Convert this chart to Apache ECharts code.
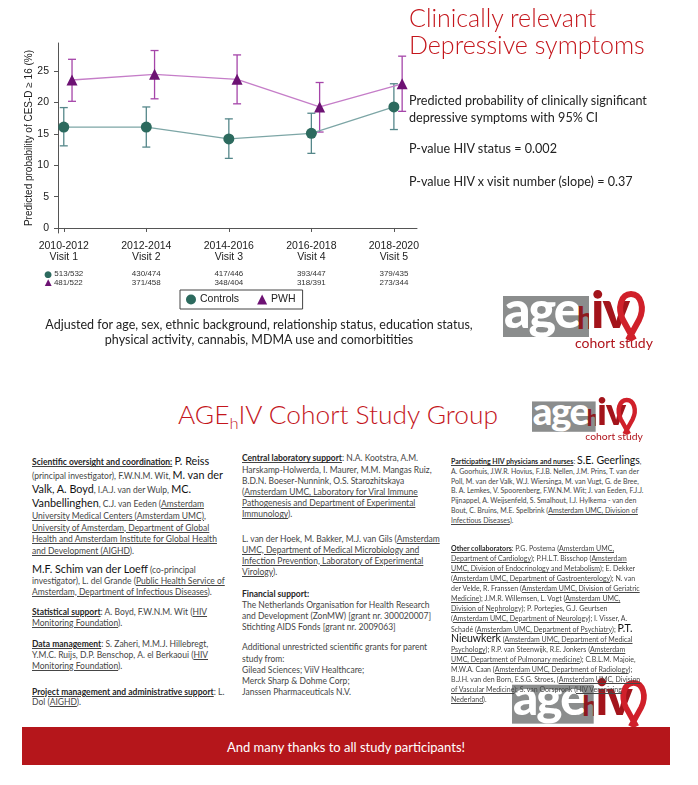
<!DOCTYPE html>
<html>
<head>
<meta charset="utf-8">
<script src="https://cdn.jsdelivr.net/npm/echarts@6/dist/echarts.min.js"></script>
<style>
  html, body { margin: 0; padding: 0; background: #fff; }
  #page { position: relative; width: 698px; height: 785px; overflow: hidden; font-family: Lato, "Open Sans", sans-serif; }
  #chart { position: absolute; left: 0; top: 0; width: 698px; height: 360px; }
  .txt { position: absolute; white-space: nowrap; color: #222; z-index: 3; }
  .title { color: #c4161c; font-weight: 300; }
  .col { font-size: 8.5px; color: #454545; }
  .col3 { font-size: 7px; }
  .col b { font-weight: 700; color: #262626; }
  .big { font-size: 10.8px; color: #111; }
  .col3 .big { font-size: 10.5px; }
  .banner { position: absolute; left: 22px; top: 727px; width: 648px; height: 38px; background: #b5161b; color: #fff; font-size: 13px; text-align: center; line-height: 41px; z-index: 5; }
  .logo { position: absolute; width: 144px; height: 62px; transform-origin: 0 0; z-index: 1; }
  .logo .g { position: absolute; left: 0; top: 6px; width: 86px; height: 41px; background: #8b8d8d; overflow: hidden; }
  .logo .age { position: absolute; left: 1px; top: -14px; color: #fff; font-weight: 900; font-size: 52px; line-height: 52px; letter-spacing: -2px; }
  .logo .h { position: absolute; left: 74px; top: 6px; color: #8e1a1f; font-weight: 900; font-size: 30px; line-height: 30px; }
  .logo .iv { position: absolute; left: 88px; top: -8px; color: #a3141b; font-weight: 900; font-size: 52px; line-height: 52px; letter-spacing: -2px; }
  .logo svg { position: absolute; left: 112px; top: 0; }
  .logo .cs { position: absolute; left: 72px; top: 45px; color: #b0141c; font-size: 14px; line-height: 16px; white-space: nowrap; }
</style>
</head>
<body>
<div id="page">
  <div id="chart"></div>

  <div class="txt title" style="left:409px; top:4px; font-size:25px; line-height:27px;">Clinically relevant<br>Depressive symptoms</div>
  <div class="txt" style="left:409px; top:91.5px; font-size:12.6px; line-height:17px;">Predicted probability of clinically significant<br>depressive symptoms with 95% CI</div>
  <div class="txt" style="left:409px; top:139.5px; font-size:12.6px; line-height:17px;">P-value HIV status = 0.002</div>
  <div class="txt" style="left:409px; top:172.5px; font-size:12.6px; line-height:17px;">P-value HIV x visit number (slope) = 0.37</div>

  <div class="txt" style="left:0; width:518px; text-align:center; top:317px; font-size:12.5px; line-height:15px;">Adjusted for age, sex, ethnic background, relationship status, education status,<br>physical activity, cannabis, MDMA use and comorbitities</div>

  <div class="logo" style="left:503px; top:290px;">
    <div class="g"><span class="age">age</span><span class="h">h</span></div>
    <span class="iv">iv</span>
    <svg width="34" height="52"><path d="M19 50 L8 30 C2 18 6 4 16 4 C26 4 30 18 24 30 L13 50" fill="none" stroke="#d0202a" stroke-width="6"/></svg>
    <span class="cs">cohort study</span>
  </div>

  <div class="txt title" style="left:178px; top:397px; font-size:26.3px; line-height:34px;">AGE<sub style="font-size:16.5px; vertical-align:-5px;">h</sub>IV Cohort Study Group</div>

  <div class="logo" style="left:532px; top:397px; transform:scale(0.74);">
    <div class="g"><span class="age">age</span><span class="h">h</span></div>
    <span class="iv">iv</span>
    <svg width="34" height="52"><path d="M19 50 L8 30 C2 18 6 4 16 4 C26 4 30 18 24 30 L13 50" fill="none" stroke="#d0202a" stroke-width="6"/></svg>
    <span class="cs">cohort study</span>
  </div>

  <div class="logo" style="left:512px; top:679px; transform:scale(0.95);">
    <div class="g"><span class="age">age</span><span class="h">h</span></div>
    <span class="iv">iv</span>
    <svg width="34" height="52"><path d="M19 50 L8 30 C2 18 6 4 16 4 C26 4 30 18 24 30 L13 50" fill="none" stroke="#d0202a" stroke-width="6"/></svg>
  </div>

  <!-- column 1 -->
  <div class="txt col" style="left:32px; top:455px; line-height:11.9px;">
    <u><b>Scientific oversight and coordination:</b></u> <span class="big">P. Reiss</span><br>
    (principal investigator), F.W.N.M. Wit, <span class="big">M. van der</span><br>
    <span class="big">Valk, A. Boyd</span>, I.A.J. van der Wulp, <span class="big">MC.</span><br>
    <span class="big">Vanbellinghen</span>, C.J. van Eeden (<u>Amsterdam</u><br>
    <u>University Medical Centers (Amsterdam UMC),</u><br>
    <u>University of Amsterdam, Department of Global</u><br>
    <u>Health and Amsterdam Institute for Global Health</u><br>
    <u>and Development (AIGHD</u>).
  </div>
  <div class="txt col" style="left:32px; top:562.5px; line-height:11px;">
    <span class="big">M.F. Schim van der Loeff</span> (co-principal<br>
    investigator), L. del Grande (<u>Public Health Service of</u><br>
    <u>Amsterdam, Department of Infectious Diseases</u>).
  </div>
  <div class="txt col" style="left:32px; top:606.5px; line-height:11px;">
    <u><b>Statistical support</b></u>: A. Boyd, F.W.N.M. Wit (<u>HIV</u><br>
    <u>Monitoring Foundation</u>).
  </div>
  <div class="txt col" style="left:32px; top:638.5px; line-height:11px;">
    <u><b>Data management</b></u>: S. Zaheri, M.M.J. Hillebregt,<br>
    Y.M.C. Ruijs, D.P. Benschop, A. el Berkaoui (<u>HIV</u><br>
    <u>Monitoring Foundation</u>).
  </div>
  <div class="txt col" style="left:32px; top:686.5px; line-height:10.5px;">
    <u><b>Project management and administrative support</b></u>: L.<br>
    Dol (<u>AIGHD</u>).
  </div>

  <!-- column 2 -->
  <div class="txt col" style="left:242px; top:453.4px; line-height:11.2px;">
    <u><b>Central laboratory support</b></u>: N.A. Kootstra, A.M.<br>
    Harskamp-Holwerda, I. Maurer, M.M. Mangas Ruiz,<br>
    B.D.N. Boeser-Nunnink, O.S. Starozhitskaya<br>
    (<u>Amsterdam UMC, Laboratory for Viral Immune</u><br>
    <u>Pathogenesis and Department of Experimental</u><br>
    <u>Immunology</u>).
  </div>
  <div class="txt col" style="left:242px; top:533.5px; line-height:11px;">
    L. van der Hoek, M. Bakker, M.J. van Gils (<u>Amsterdam</u><br>
    <u>UMC, Department of Medical Microbiology and</u><br>
    <u>Infection Prevention, Laboratory of Experimental</u><br>
    <u>Virology</u>).
  </div>
  <div class="txt col" style="left:242px; top:588.5px; line-height:11px;">
    <b>Financial support:</b><br>
    The Netherlands Organisation for Health Research<br>
    and Development (ZonMW) [grant nr. 300020007]<br>
    Stichting AIDS Fonds [grant nr. 2009063]
  </div>
  <div class="txt col" style="left:242px; top:642.4px; line-height:11.2px;">
    Additional unrestricted scientific grants for parent<br>
    study from:<br>
    Gilead Sciences; ViiV Healthcare;<br>
    Merck Sharp &amp; Dohme Corp;<br>
    Janssen Pharmaceuticals N.V.
  </div>

  <!-- column 3 -->
  <div class="txt col col3" style="left:451px; top:456px; line-height:9.83px;">
    <u><b>Participating HIV physicians and nurses</b></u>: <span class="big">S.E. Geerlings</span>,<br>
    A. Goorhuis, J.W.R. Hovius, F.J.B. Nellen, J.M. Prins, T. van der<br>
    Poll, M. van der Valk, W.J. Wiersinga, M. van Vugt, G. de Bree,<br>
    B. A. Lemkes, V. Spoorenberg, F.W.N.M. Wit; J. van Eeden, F.J.J.<br>
    Pijnappel, A. Weijsenfeld, S. Smalhout, I.J. Hylkema - van den<br>
    Bout, C. Bruins, M.E. Spelbrink (<u>Amsterdam UMC, Division of</u><br>
    <u>Infectious Diseases</u>).
  </div>
  <div class="txt col col3" style="left:451px; top:544px; line-height:9.93px;">
    <u><b>Other collaborators</b></u>: P.G. Postema (<u>Amsterdam UMC,</u><br>
    <u>Department of Cardiology</u>); P.H.L.T. Bisschop (<u>Amsterdam</u><br>
    <u>UMC, Division of Endocrinology and Metabolism</u>); E. Dekker<br>
    (<u>Amsterdam UMC, Department of Gastroenterology</u>); N. van<br>
    der Velde, R. Franssen (<u>Amsterdam UMC, Division of Geriatric</u><br>
    <u>Medicine</u>); J.M.R. Willemsen, L. Vogt (<u>Amsterdam UMC,</u><br>
    <u>Division of Nephrology</u>); P. Portegies, G.J. Geurtsen<br>
    (<u>Amsterdam UMC, Department of Neurology</u>); I. Visser, A.<br>
    Schadé (<u>Amsterdam UMC, Department of Psychiatry</u>); <span class="big">P.T.</span><br>
    <span class="big">Nieuwkerk</span> (<u>Amsterdam UMC, Department of Medical</u><br>
    <u>Psychology</u>); R.P. van Steenwijk, R.E. Jonkers (<u>Amsterdam</u><br>
    <u>UMC, Department of Pulmonary medicine</u>); C.B.L.M. Majoie,<br>
    M.W.A. Caan (<u>Amsterdam UMC, Department of Radiology</u>);<br>
    B.J.H. van den Born, E.S.G. Stroes, (<u>Amsterdam UMC, Division</u><br>
    <u>of Vascular Medicine</u>); S. van Oorspronk (<u>HIV Vereniging</u><br>
    <u>Nederland</u>).
  </div>

  <div class="banner">And many thanks to all study participants!</div>
</div>

<script>
  // visits and labels
  var visits = [1, 2, 3, 4, 5]
  var periods = ['2010-2012', '2012-2014', '2014-2016', '2016-2018', '2018-2020']
  var visitNames = ['Visit 1', 'Visit 2', 'Visit 3', 'Visit 4', 'Visit 5']
  var nControls = ['513/532', '430/474', '417/446', '393/447', '379/435']
  var nPWH = ['481/522', '371/458', '348/404', '318/391', '273/344']
  var yTicks = [0, 5, 10, 15, 20, 25]

  // predicted probability (%) with 95% CI
  var controlsEst = [16.1, 16.1, 14.2, 15.1, 19.3]
  var controlsLow = [13.1, 12.9, 11.1, 11.9, 15.7]
  var controlsHigh = [19.2, 19.3, 17.4, 18.3, 23.0]
  var pwhEst = [23.6, 24.5, 23.7, 19.3, 23.0]
  var pwhLow = [20.2, 20.6, 19.8, 15.3, 18.6]
  var pwhHigh = [26.9, 28.3, 27.6, 23.2, 27.4]

  var dodge = 0.1 // PWH drawn a little right of each visit

  var ctrlColor = '#2c6a5e', ctrlLine = '#7da6a6', ctrlBar = '#55878a'
  var pwhColor = '#6d1273', pwhLine = '#c57dc8', pwhBar = '#a545a9'

  function errorBars(color) {
    return function (params, api) {
      var x = api.value(0)
      var lo = api.coord([x, api.value(1)])
      var hi = api.coord([x, api.value(2)])
      var w = 4
      var style = { stroke: color, lineWidth: 1.3, fill: null }
      return {
        type: 'group',
        children: [
          { type: 'line', shape: { x1: lo[0], y1: lo[1], x2: hi[0], y2: hi[1] }, style: style },
          { type: 'line', shape: { x1: lo[0] - w, y1: lo[1], x2: lo[0] + w, y2: lo[1] }, style: style },
          { type: 'line', shape: { x1: hi[0] - w, y1: hi[1], x2: hi[0] + w, y2: hi[1] }, style: style }
        ]
      }
    }
  }

  var ctrlPoints = [], pwhPoints = [], ctrlCI = [], pwhCI = []
  visits.forEach(function (v, i) {
    ctrlPoints.push([v, controlsEst[i]])
    pwhPoints.push([v + dodge, pwhEst[i]])
    ctrlCI.push([v, controlsLow[i], controlsHigh[i]])
    pwhCI.push([v + dodge, pwhLow[i], pwhHigh[i]])
  })

  var axisColor = '#555'
  var myChart = echarts.init(document.getElementById('chart'))
  myChart.setOption({
    animation: false,
    textStyle: { fontFamily: '"Liberation Sans", Arial, sans-serif' },
    grid: { left: 58, top: 43, width: 359, height: 190 },
    legend: {
      left: 180,
      top: 290,
      padding: [4, 7, 4, 6],
      itemGap: 18,
      itemWidth: 10,
      itemHeight: 10,
      borderColor: '#444',
      borderWidth: 1,
      textStyle: { fontSize: 10.5, color: '#222', padding: [0, 0, 0, -1] },
      data: [{ name: 'Controls', icon: 'circle' }, { name: 'PWH', icon: 'triangle' }]
    },
    xAxis: [{
      type: 'value',
      min: 0.93,
      max: 5.28,
      splitLine: { show: false },
      axisLine: { lineStyle: { color: axisColor, width: 1 } },
      axisTick: { customValues: visits, length: 4, lineStyle: { color: axisColor } },
      axisLabel: {
        customValues: visits,
        margin: 8,
        color: '#222',
        formatter: function (v) {
          var i = visits.indexOf(v)
          return '{p|' + periods[i] + '}\n{p|' + visitNames[i] + '}'
        },
        rich: { p: { fontSize: 10.5, lineHeight: 11, color: '#222' } }
      }
    }, {
      type: 'value',
      min: 0.93,
      max: 5.28,
      position: 'bottom',
      splitLine: { show: false },
      axisLine: { show: false },
      axisTick: { show: false },
      axisLabel: {
        customValues: visits,
        margin: 37,
        fontSize: 8,
        color: '#333',
        formatter: function (v) {
          var i = visits.indexOf(v)
          if (i === 0) {
            return '{cd|●} {n|' + nControls[i] + '}\n{tr|▲} {n|' + nPWH[i] + '}'
          }
          return '{n|' + nControls[i] + '}\n{n|' + nPWH[i] + '}'
        },
        rich: {
          n: { fontSize: 8, lineHeight: 8.5, color: '#333' },
          cd: { fontSize: 9, lineHeight: 8.5, color: ctrlColor, fontFamily: 'DejaVu Sans' },
          tr: { fontSize: 9, lineHeight: 8.5, color: pwhColor, fontFamily: 'DejaVu Sans' }
        }
      }
    }],
    yAxis: {
      type: 'value',
      min: -0.8,
      max: 29.5,
      name: 'Predicted probability of CES-D ≥ 16 (%)',
      nameLocation: 'middle',
      nameGap: 24,
      nameMoveOverlap: false,
      nameTextStyle: { fontSize: 10, color: '#222' },
      splitLine: { show: false },
      axisLine: { show: true, lineStyle: { color: axisColor, width: 1 } },
      axisTick: { show: true, customValues: yTicks, length: 4, lineStyle: { color: axisColor } },
      axisLabel: { customValues: yTicks, margin: 9, fontSize: 10.5, color: '#222' }
    },
    series: [{
      name: 'Controls CI',
      type: 'custom',
      z: 1,
      renderItem: errorBars(ctrlBar),
      encode: { x: 0, y: [1, 2] },
      data: ctrlCI
    }, {
      name: 'PWH CI',
      type: 'custom',
      z: 1,
      renderItem: errorBars(pwhBar),
      encode: { x: 0, y: [1, 2] },
      data: pwhCI
    }, {
      name: 'Controls',
      type: 'line',
      z: 3,
      symbol: 'circle',
      symbolSize: 11,
      itemStyle: { color: ctrlColor },
      lineStyle: { color: ctrlLine, width: 1.3 },
      data: ctrlPoints
    }, {
      name: 'PWH',
      type: 'line',
      z: 3,
      symbol: 'triangle',
      symbolSize: 11,
      itemStyle: { color: pwhColor },
      lineStyle: { color: pwhLine, width: 1.3 },
      data: pwhPoints
    }]
  })
</script>
</body>
</html>
